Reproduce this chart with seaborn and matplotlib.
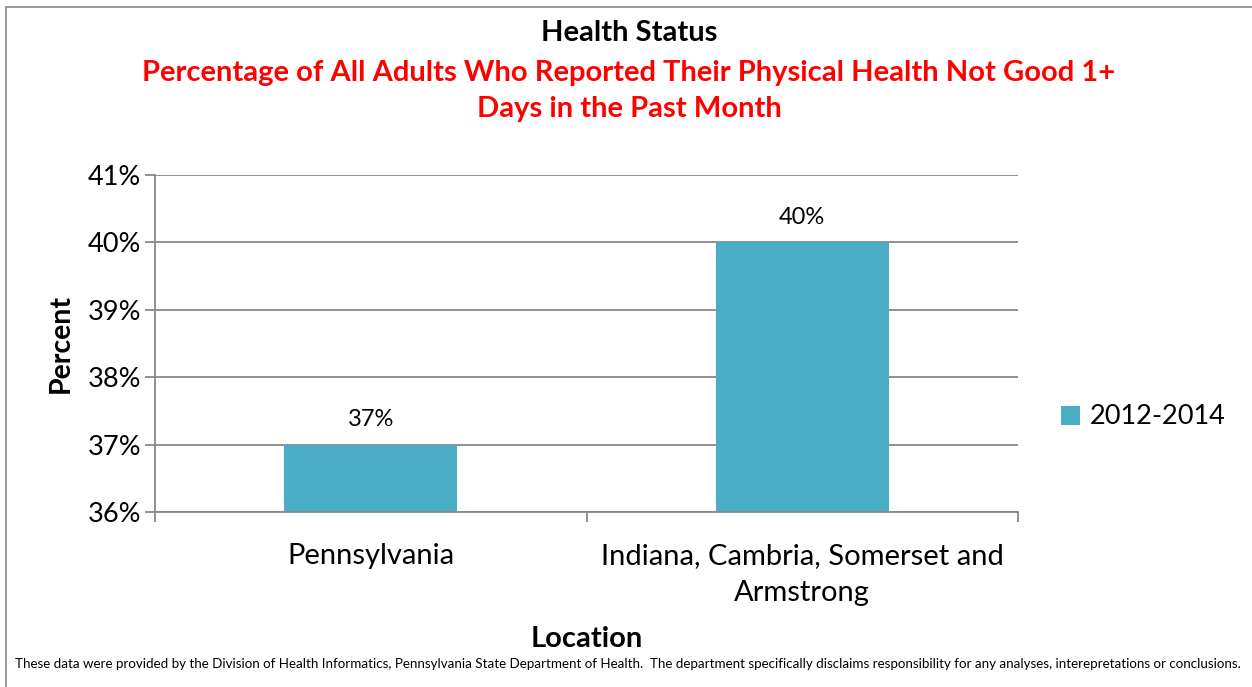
import matplotlib
matplotlib.use("Agg")
import matplotlib.pyplot as plt
import seaborn as sns
import pandas as pd
from matplotlib.patches import Rectangle, Patch
from matplotlib.ticker import FixedLocator

categories = ["Pennsylvania", "Indiana, Cambria, Somerset and\nArmstrong"]
values = [37, 40]
series_name = "2012-2014"
yticks = [36, 37, 38, 39, 40, 41]

sns.set_theme(style="white")
plt.rcParams['font.family'] = ['Lato', 'DejaVu Sans']
plt.rcParams['text.color'] = 'black'
plt.rcParams['xtick.color'] = 'black'
plt.rcParams['ytick.color'] = 'black'
plt.rcParams['axes.labelcolor'] = 'black'

df = pd.DataFrame({"Location": categories, "Percent": values, "Period": series_name})

fig = plt.figure(figsize=(12.52, 6.87), dpi=100)
ax = fig.add_axes([155/1252, 1-512/687, (1018-155)/1252, (512-175)/687])

bar_color = "#4BACC6"
sns.barplot(data=df, x="Location", y="Percent", color=bar_color, width=0.4, ax=ax,
            saturation=1, edgecolor="none")

ax.set_ylim(36, 41)
ax.set_xlim(-0.5, 1.5)
ax.set_yticks(yticks)
ax.set_yticklabels([f"{t}%" for t in yticks], fontsize=19.5)
ax.yaxis.grid(True, color="#888888", linewidth=1.3)
ax.set_axisbelow(True)
for s in ["top", "right"]:
    ax.spines[s].set_visible(False)
ax.spines["left"].set_color("#888888")
ax.spines["left"].set_linewidth(1.3)
ax.spines["bottom"].set_color("#888888")
ax.spines["bottom"].set_linewidth(1.3)

ax.tick_params(axis="y", which="major", left=True, length=7, color="#888888", width=1.3, pad=3,
               labelcolor="black")
ax.set_xticks([0, 1])
ax.set_xticklabels(categories, fontsize=21, linespacing=1.55, color="black")
ax.tick_params(axis="x", which="major", bottom=False, pad=16)
ax.xaxis.set_minor_locator(FixedLocator([-0.5, 0.5, 1.5]))
ax.tick_params(axis="x", which="minor", bottom=True, length=7, color="#888888", width=1.3)

for i, v in enumerate(values):
    ax.text(i, v + 0.22, f"{v}%", ha="center", va="bottom", fontsize=17, color="black")

ax.set_xlabel("")
ax.set_ylabel("Percent", fontsize=20.5, fontweight="bold", labelpad=10, color="black")
fig.text(587/1252, 1-639/687, "Location", ha="center", va="center", fontsize=21, fontweight="bold",
         color="black")

fig.text(629/1252, 1-33/687, "Health Status", ha="center", va="center", fontsize=21, fontweight="bold",
         color="black")
fig.text(629/1252, 1-91/687, "Percentage of All Adults Who Reported Their Physical Health Not Good 1+\nDays in the Past Month",
         ha="center", va="center", fontsize=21, fontweight="bold", color="#FF0000", linespacing=1.45)

leg = ax.legend(handles=[Patch(facecolor=bar_color, edgecolor="none", label=series_name)],
                loc="center left", bbox_to_anchor=(1042/1252, 1-417/687), bbox_transform=fig.transFigure,
                frameon=False, fontsize=19.5, handlelength=0.7, handleheight=0.7, handletextpad=0.35,
                borderpad=0.2)
for t in leg.get_texts():
    t.set_color("black")

fig.text(628/1252, 1-664/687,
         "These data were provided by the Division of Health Informatics, Pennsylvania State Department of Health.  The department specifically disclaims responsibility for any analyses, interepretations or conclusions.",
         ha="center", va="center", fontsize=9.6, color="black")

fig.patches.append(Rectangle((6/1252, -0.01), 1.0, 1.0, transform=fig.transFigure,
                             fill=False, edgecolor="#888888", linewidth=1.2))

fig.savefig("out.png", dpi=100, facecolor="white")
